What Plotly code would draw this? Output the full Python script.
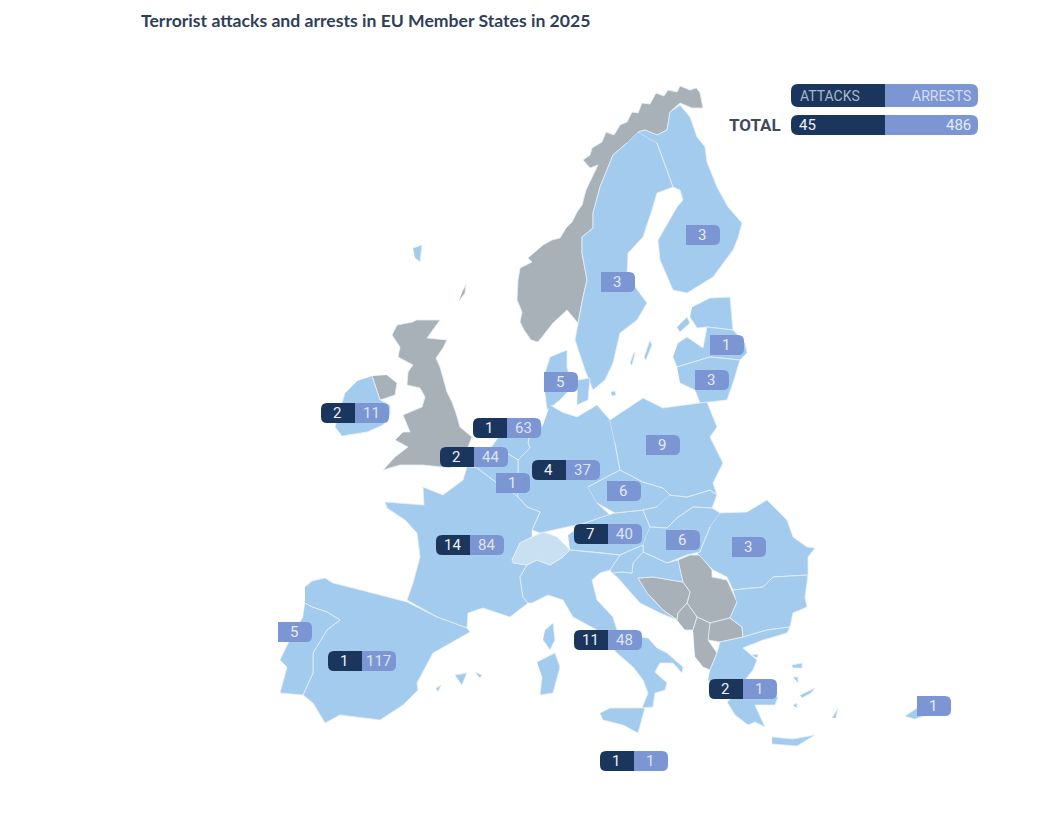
import plotly.graph_objects as go

# labels on the map: attacks (None = no dark part), arrests
attacks = [2, 1, 2, None, 4, 14, 1, None, 7, 11, 1, 2, None, None, None, None, None, None, None, None, None, None]
arrests = [11, 63, 44, 1, 37, 84, 117, 5, 40, 48, 1, 1, 1, 3, 3, 1, 3, 5, 9, 6, 6, 3]

total_attacks = 45
total_arrests = 486

# left edge of the part that carries the first value, and vertical centre
label_left = [321, 473, 440, 496, 532, 436, 328, 278, 574, 574, 600, 709, 917, 601, 686, 710, 695, 544, 646, 607, 666, 732]
label_mid = [413, 428, 457, 483, 470, 545, 661, 632, 534, 640, 761, 689, 706, 282, 235, 345, 380, 382, 445, 491, 540, 547]

# outlines
eu_shapes = {
    "Sweden": [(638,132),(657,143),(667,170),(673,187),(665,190),(657,193),(652,210),(643,237),(628,253),(627,277),(636,288),(647,303),(637,320),(620,333),(613,363),(605,380),(593,390),(585,370),(575,340),(578,323),(583,297),(587,280),(582,253),(582,237),(593,228),(593,213),(600,187),(613,155),(627,143)],
    "Finland": [(638,132),(645,130),(657,135),(667,130),(670,112),(680,105),(690,117),(697,137),(705,147),(707,162),(717,187),(728,207),(742,223),(738,238),(733,250),(713,277),(687,293),(673,290),(660,260),(658,240),(677,207),(683,200),(680,190),(673,187),(667,170),(657,143)],
    "Estonia": [(692,307),(710,298),(730,297),(732,320),(733,330),(707,327),(697,328),(690,317)],
    "Saaremaa": [(677,327),(687,317),(690,323),(680,332)],
    "Latvia": [(678,343),(687,337),(703,348),(707,327),(733,330),(745,343),(747,353),(740,360),(710,357),(677,367),(673,357)],
    "Lithuania": [(677,367),(710,357),(740,360),(733,383),(727,400),(700,403),(695,390),(680,383)],
    "Jutland": [(545,373),(550,357),(567,350),(567,367),(572,387),(560,400),(547,410),(545,393)],
    "Zealand": [(578,380),(590,378),(588,400),(577,405)],
    "Bornholm": [(611,392),(615,391),(616,395),(612,396)],
    "Gotland": [(644,357),(650,340),(652,345),(646,360)],
    "Oland": [(630,363),(634,352),(635,354),(632,365)],
    "Faroe": [(413,248),(422,245),(420,262),(415,258)],
    "Germany": [(550,405),(562,412),(577,417),(597,405),(610,420),(615,443),(620,470),(588,487),(597,503),(610,515),(585,523),(563,528),(540,533),(532,530),(540,512),(527,507),(518,497),(513,493),(518,473),(518,460),(530,448),(528,443),(530,433),(543,425)],
    "Netherlands": [(510,425),(530,420),(543,425),(530,433),(528,443),(530,448),(518,460),(505,452),(490,449),(500,435)],
    "Belgium": [(490,449),(505,452),(518,460),(518,473),(513,493),(497,483),(477,468),(470,466)],
    "Luxembourg": [(508,487),(516,485),(518,497),(510,497)],
    "France": [(467,467),(463,480),(443,495),(423,487),(424,505),(400,503),(385,502),(387,508),(405,520),(417,533),(420,557),(413,583),(407,600),(437,617),(467,628),(468,613),(483,608),(510,617),(528,603),(523,597),(520,577),(527,565),(513,563),(512,560),(520,543),(532,537),(532,530),(540,512),(527,507),(518,497),(513,493),(497,483),(477,468)],
    "Austria": [(568,535),(585,523),(608,515),(615,513),(643,510),(650,527),(643,545),(620,555),(593,552),(570,550)],
    "Czechia": [(588,487),(620,470),(643,482),(663,488),(670,495),(657,507),(643,510),(615,513),(597,503)],
    "Slovakia": [(670,495),(687,497),(710,490),(717,495),(712,508),(693,507),(677,518),(667,528),(650,527),(643,510),(657,507)],
    "Poland": [(610,420),(643,398),(663,408),(707,402),(717,427),(710,437),(723,463),(713,483),(717,495),(710,490),(687,497),(670,495),(663,488),(643,482),(620,470),(615,443)],
    "Hungary": [(650,527),(667,528),(677,518),(693,507),(712,508),(720,513),(710,527),(700,552),(687,555),(667,563),(643,552),(643,545)],
    "Romania": [(720,513),(747,512),(767,500),(787,520),(793,537),(807,547),(815,548),(808,557),(808,575),(773,577),(763,587),(733,590),(727,577),(713,570),(697,553),(700,552),(710,527)],
    "Bulgaria": [(733,590),(763,587),(773,577),(808,575),(805,597),(807,607),(793,613),(790,627),(767,630),(743,637),(742,627),(730,618),(737,602)],
    "Croatia": [(643,552),(667,563),(678,560),(683,582),(653,577),(638,578),(647,593),(663,610),(677,620),(660,613),(640,603),(628,590),(617,577),(612,573),(622,572),(632,573),(633,563)],
    "Slovenia": [(620,555),(643,545),(643,552),(633,563),(632,573),(622,572),(612,573),(610,570)],
    "Italy": [(570,550),(593,552),(620,555),(610,570),(600,573),(592,580),(597,600),(613,617),(617,630),(640,637),(648,638),(657,648),(667,653),(683,667),(682,673),(673,663),(660,663),(655,672),(667,683),(665,690),(655,693),(653,707),(642,708),(648,693),(643,680),(633,667),(617,653),(597,630),(573,617),(563,600),(548,595),(532,603),(528,603),(523,597),(520,577),(527,565),(537,560),(550,565),(563,557)],
    "Sicily": [(600,713),(610,708),(645,708),(638,733),(623,725),(603,720)],
    "Sardinia": [(537,662),(555,653),(560,667),(553,693),(540,695),(542,677)],
    "Corsica": [(545,630),(553,623),(555,640),(550,650),(543,640)],
    "Greece": [(710,670),(717,653),(720,642),(743,637),(767,630),(790,627),(787,633),(763,640),(743,648),(757,660),(753,670),(745,680),(760,690),(778,697),(775,705),(755,705),(765,727),(755,722),(748,725),(735,715),(727,702),(735,695),(720,690),(708,680)],
    "Crete": [(772,737),(793,739),(815,735),(797,746),(772,744)],
    "Rhodes": [(832,718),(838,708),(836,718)],
    "Lesvos": [(792,665),(802,663),(802,668),(793,668)],
    "Chios": [(793,677),(798,677),(798,683)],
    "Thasos": [(752,655),(758,654),(757,658)],
    "Cyclades": [(800,695),(815,688),(811,693),(802,698)],
    "Naxos": [(793,705),(797,703),(797,708)],
    "Spain": [(305,587),(312,581),(325,578),(333,583),(353,588),(407,602),(437,617),(467,628),(470,632),(450,643),(433,653),(417,683),(418,690),(403,705),(380,720),(340,715),(325,723),(313,703),(303,695),(313,673),(313,653),(327,630),(340,620),(327,612),(312,607),(305,603)],
    "Portugal": [(305,603),(312,607),(327,612),(340,620),(327,630),(313,653),(313,673),(303,695),(280,693),(287,667),(280,660),(293,633),(303,617)],
    "Mallorca": [(455,675),(467,673),(462,685)],
    "Menorca": [(475,672),(482,675),(480,678)],
    "Ibiza": [(436,688),(441,685),(438,692)],
    "Ireland": [(372,376),(375,385),(380,400),(390,405),(390,415),(383,425),(367,432),(342,436),(335,427),(340,410),(345,393),(357,381)],
    "Cyprus": [(905,716),(920,706),(935,695),(935,712),(915,719)],
}
other_shapes = {
    "Norway": [(700,93),(703,108),(692,108),(680,103),(670,112),(667,130),(657,135),(645,130),(638,132),(627,143),(613,155),(600,187),(593,213),(593,228),(582,237),(582,253),(587,280),(583,297),(578,323),(567,310),(553,323),(538,342),(531,340),(524,330),(520,322),(522,312),(517,300),(518,280),(520,268),(532,262),(528,258),(543,245),(552,240),(560,238),(566,228),(572,222),(577,212),(582,205),(586,190),(592,177),(598,165),(590,168),(583,160),(590,155),(592,148),(597,145),(602,142),(606,132),(614,135),(620,125),(627,122),(632,112),(638,113),(642,103),(650,104),(656,93),(664,96),(668,90),(677,92),(680,86),(690,90),(696,88)],
    "Britain": [(417,320),(440,320),(427,338),(447,340),(443,348),(436,358),(440,367),(443,378),(447,392),(452,402),(456,413),(460,427),(472,437),(468,447),(458,452),(450,468),(423,465),(400,465),(383,470),(395,457),(408,447),(395,440),(403,432),(410,432),(403,415),(422,407),(425,397),(420,388),(407,385),(408,372),(413,365),(398,357),(400,347),(392,335),(397,325),(413,322)],
    "Northern Ireland": [(387,375),(397,383),(395,395),(387,398),(380,400),(375,385),(372,376)],
    "Shetland": [(463,290),(466,284),(465,293),(459,301)],
    "Serbia": [(678,560),(690,555),(700,555),(712,570),(712,577),(727,580),(737,602),(730,618),(710,623),(697,617),(687,603),(690,592),(683,582)],
    "Bosnia": [(638,578),(653,577),(683,582),(690,592),(687,603),(678,613),(677,620),(663,610),(647,593)],
    "Montenegro": [(677,620),(678,613),(687,603),(697,617),(693,630),(685,630)],
    "North Macedonia": [(710,623),(730,618),(742,627),(743,637),(720,642),(708,640)],
    "Albania": [(693,630),(697,617),(710,623),(708,640),(717,653),(710,670),(703,667),(695,657)],
}
swiss_shape = [(512,560),(520,543),(543,532),(557,537),(570,550),(563,557),(550,565),(537,560),(527,565),(513,563)]

EU_BLUE = "#a3cbed"
GREY = "#a9b1b8"
SWISS = "#c9dff2"
DARK = "#1b365d"
LIGHT = "#7b96d2"


def add_outline(fig, name, points, color):
    fig.add_trace(go.Scatter(x=[p[0] for p in points], y=[p[1] for p in points], name=name,
                             mode="lines", fill="toself", fillcolor=color,
                             line=dict(color="#e6f0f9", width=0.8), hoverinfo="name"))


# rounded box, r1 for the left corners and r2 for the right ones
def box(x0, x1, y0, y1, r1, r2, color):
    path = (f"M {x0 + r1} {y0} L {x1 - r2} {y0} Q {x1} {y0} {x1} {y0 + r2} L {x1} {y1 - r2} "
            f"Q {x1} {y1} {x1 - r2} {y1} L {x0 + r1} {y1} Q {x0} {y1} {x0} {y1 - r1} "
            f"L {x0} {y0 + r1} Q {x0} {y0} {x0 + r1} {y0} Z")
    return dict(type="path", path=path, fillcolor=color, line=dict(width=0), layer="above",
                xref="x", yref="y")


fig = go.Figure()
for name, points in other_shapes.items():
    add_outline(fig, name, points, GREY)
for name, points in eu_shapes.items():
    add_outline(fig, name, points, EU_BLUE)
add_outline(fig, "Switzerland", swiss_shape, SWISS)

shapes = []
annotations = []


def add_text(x, y, text, size, color, anchor="center"):
    annotations.append(dict(x=x, y=y, text=text, showarrow=False, xanchor=anchor, yanchor="middle",
                            font=dict(family="Roboto", size=size, color=color)))


part = 34
for a, b, left, mid in zip(attacks, arrests, label_left, label_mid):
    if a is None:
        shapes.append(box(left, left + part, mid - 10, mid + 10, 0, 6, LIGHT))
        add_text(left + part / 2 - 1, mid, str(b), 15, "#e6ebf6")
    else:
        shapes.append(box(left, left + part, mid - 10, mid + 10, 6, 0, DARK))
        shapes.append(box(left + part, left + 2 * part, mid - 10, mid + 10, 0, 6, LIGHT))
        add_text(left + part / 2 - 1, mid, str(a), 15, "#eef1f6")
        add_text(left + 1.5 * part - 1, mid, str(b), 15, "#dde4f4")

# legend in the top right corner
shapes.append(box(791, 885, 84, 107, 7, 0, DARK))
shapes.append(box(885, 978, 84, 107, 0, 7, LIGHT))
shapes.append(box(791, 885, 115, 135, 7, 0, DARK))
shapes.append(box(885, 978, 115, 135, 0, 7, LIGHT))
add_text(798, 96, "ATTACKS", 14, "#a9b6cc", "left")
add_text(973, 96, "ARRESTS", 14, "#d5ddf0", "right")
add_text(797, 125, str(total_attacks), 15, "#eef1f6", "left")
add_text(973, 125, str(total_arrests), 15, "#e6ebf6", "right")
add_text(783, 125, "<b>TOTAL</b>", 17, "#3f4b5c", "right")

annotations.append(dict(x=139, y=20, text="<b>Terrorist attacks and arrests in EU Member States in 2025</b>",
                        showarrow=False, xanchor="left", yanchor="middle",
                        font=dict(family="Lato", size=17.6, color="#2f3f5a")))

fig.update_layout(width=1051, height=816, margin=dict(l=0, r=0, t=0, b=0), showlegend=False,
                  plot_bgcolor="white", paper_bgcolor="white", shapes=shapes, annotations=annotations,
                  xaxis=dict(range=[0, 1051], visible=False, fixedrange=True),
                  yaxis=dict(range=[816, 0], visible=False, fixedrange=True))

fig.write_html("out.html", config={"displayModeBar": False},
               post_script="document.body.style.margin='0';")
